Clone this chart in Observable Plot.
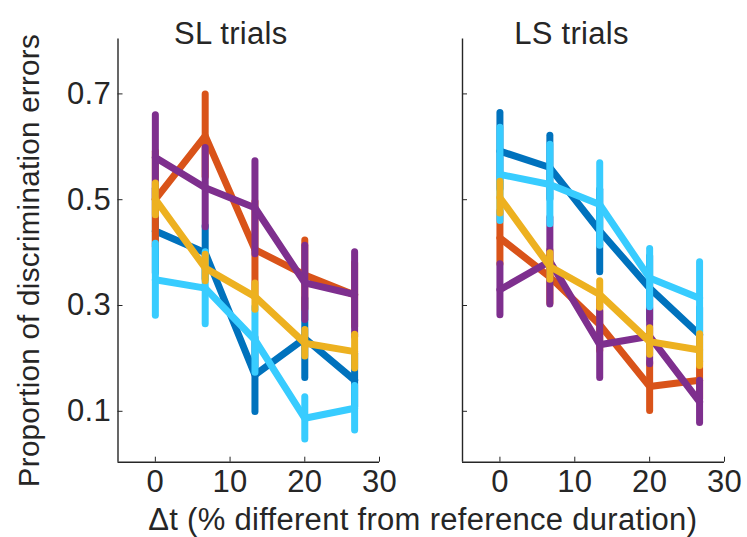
<!DOCTYPE html>
<html><head><meta charset="utf-8">
<script src="https://cdn.jsdelivr.net/npm/d3@7"></script>
<script src="https://cdn.jsdelivr.net/npm/@observablehq/plot@0.6"></script>
<style>
body{margin:0;background:#fff}
#chart{position:relative;width:747px;height:537px;overflow:hidden;background:#fff}
#chart svg{position:absolute;left:0;top:0}
#chart svg text{letter-spacing:0.3px}
</style></head><body><div id="chart"></div>
<script>
// x values: Δt (% different from reference duration)
const deltaT = [0, 6.67, 13.33, 20, 26.67];
const panelTitles = ["SL trials", "LS trials"];
const yTicks = [0.1, 0.3, 0.5, 0.7];
const xTicks = [0, 10, 20, 30];
// series in drawing order
const seriesNames = ["blue", "orange", "purple", "cyan", "yellow"];
const seriesColors = ["#0072BD", "#D95319", "#7E2F8E", "#38CCFF", "#EDB120"];

// SL trials: means and error half-widths
const slBlue = [0.437, 0.396, 0.165, 0.234, 0.155];
const slBlueErr = [0.08, 0.05, 0.07, 0.075, 0.05];
const slOrange = [0.497, 0.617, 0.402, 0.354, 0.316];
const slOrangeErr = [0.09, 0.078, 0.09, 0.065, 0.06];
const slPurple = [0.576, 0.519, 0.481, 0.339, 0.317];
const slPurpleErr = [0.08, 0.075, 0.088, 0.07, 0.08];
const slCyan = [0.345, 0.329, 0.231, 0.083, 0.102];
const slCyanErr = [0.068, 0.068, 0.062, 0.04, 0.042];
const slYellow = [0.497, 0.367, 0.313, 0.225, 0.209];
const slYellowErr = [0.03, 0.025, 0.025, 0.025, 0.032];

// LS trials
const lsBlue = [0.588, 0.557, 0.437, 0.329, 0.241];
const lsBlueErr = [0.072, 0.06, 0.078, 0.06, 0.05];
const lsOrange = [0.424, 0.35, 0.26, 0.143, 0.155];
const lsOrangeErr = [0.05, 0.05, 0.05, 0.046, 0.035];
const lsPurple = [0.326, 0.38, 0.222, 0.238, 0.114];
const lsPurpleErr = [0.048, 0.082, 0.063, 0.053, 0.04];
const lsCyan = [0.544, 0.525, 0.487, 0.348, 0.31];
const lsCyanErr = [0.088, 0.075, 0.078, 0.055, 0.068];
const lsYellow = [0.5, 0.37, 0.317, 0.228, 0.212];
const lsYellowErr = [0.03, 0.025, 0.025, 0.025, 0.03];

const slMeans = [slBlue, slOrange, slPurple, slCyan, slYellow];
const slErrs = [slBlueErr, slOrangeErr, slPurpleErr, slCyanErr, slYellowErr];
const lsMeans = [lsBlue, lsOrange, lsPurple, lsCyan, lsYellow];
const lsErrs = [lsBlueErr, lsOrangeErr, lsPurpleErr, lsCyanErr, lsYellowErr];

function rowsFor(means, errs) {
  return seriesNames.map((s, i) => deltaT.map((x, j) => ({
    series: s, x, y: means[i][j], lo: means[i][j] - errs[i][j], hi: means[i][j] + errs[i][j]
  })));
}

const FONT = "'Liberation Sans', Helvetica, Arial, sans-serif";
const INK = "#262626";
const FS = 31;
const W = 747, H = 537, MT = 38.5, MB = 75.3;

function panel(groups, title, ml, mr, opts) {
  const marks = [
    Plot.ruleX([-5], {stroke: INK, strokeWidth: 1.4}),
    Plot.ruleY([0], {stroke: INK, strokeWidth: 1.4}),
    Plot.axisY(yTicks, {tickSize: -5, tickPadding: 12, stroke: INK, fill: INK, fontSize: FS, dy: 2,
      tickFormat: opts.yLabels ? (d => d.toFixed(1)) : (() => ""), label: null}),
    Plot.axisX(xTicks, {tickSize: -5, tickPadding: 13, stroke: INK, fill: INK, fontSize: FS,
      tickFormat: d => String(d), label: null}),
  ];
  groups.forEach((rows, i) => {
    marks.push(Plot.ruleX(rows, {x: "x", y1: "lo", y2: "hi", stroke: seriesColors[i], strokeWidth: 7, strokeLinecap: "round"}));
    marks.push(Plot.line(rows, {x: "x", y: "y", stroke: seriesColors[i], strokeWidth: 7, strokeLinecap: "round", strokeLinejoin: "round"}));
  });
  marks.push(Plot.text([title], {frameAnchor: "top", lineAnchor: "bottom", dy: 4.5, dx: opts.titleDx, fontSize: FS, fill: INK}));
  if (opts.yTitle) {
    marks.push(Plot.text([opts.yTitle], {frameAnchor: "left", rotate: -90, textAnchor: "middle", lineAnchor: "bottom", dx: -79.5, dy: 10, fontSize: 29.5, fill: INK}));
  }
  if (opts.xTitle) {
    marks.push(Plot.text([opts.xTitle], {frameAnchor: "bottom", lineAnchor: "bottom", dy: 67.5, dx: opts.xTitleDx, fontSize: FS, fill: INK}));
  }
  return Plot.plot({
    width: W, height: H,
    marginLeft: ml, marginRight: mr, marginTop: MT, marginBottom: MB,
    style: {background: "transparent", fontFamily: FONT, color: INK, overflow: "visible"},
    x: {domain: [-5, 30]},
    y: {domain: [0, 0.8]},
    marks
  });
}

const chart = document.getElementById("chart");
chart.appendChild(panel(rowsFor(slMeans, slErrs), panelTitles[0], 117.5, W - 379,
  {yLabels: true, titleDx: -18, yTitle: "Proportion of discrimination errors",
   xTitle: "Δt (% different from reference duration)", xTitleDx: 174}));
chart.appendChild(panel(rowsFor(lsMeans, lsErrs), panelTitles[1], 462, W - 724,
  {yLabels: false, titleDx: -22}));
</script></body></html>
